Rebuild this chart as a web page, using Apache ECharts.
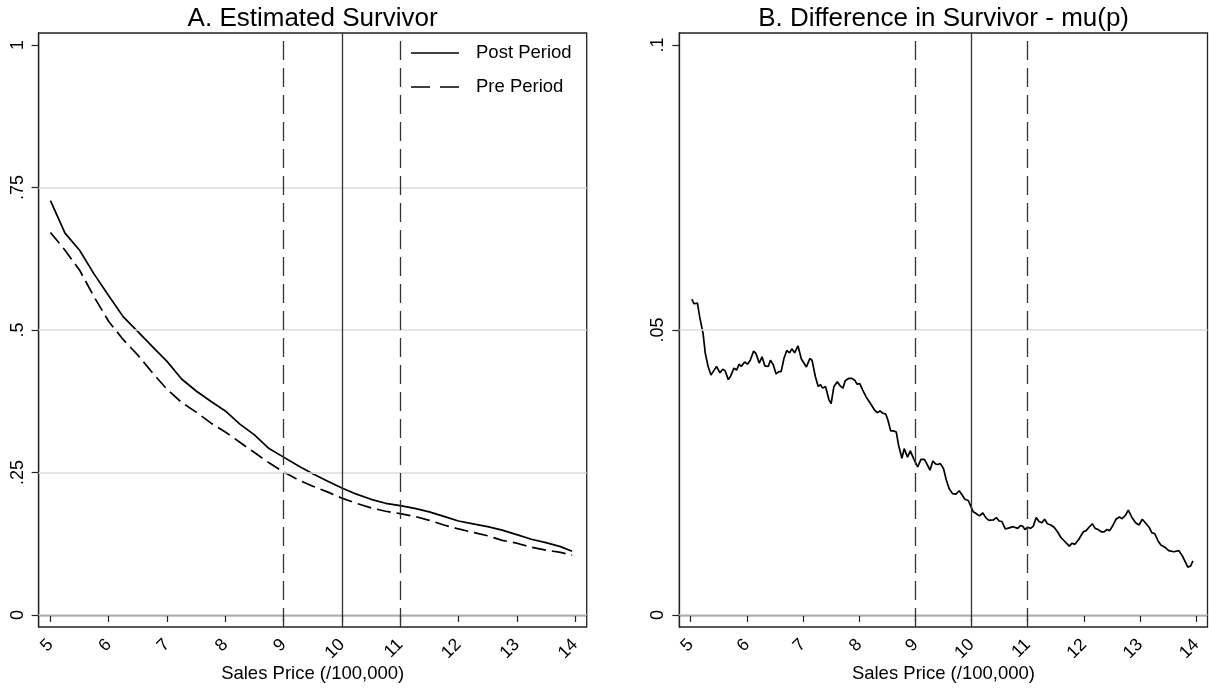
<!DOCTYPE html>
<html>
<head>
<meta charset="utf-8">
<script src="https://cdn.jsdelivr.net/npm/echarts@6/dist/echarts.min.js"></script>
<style>
html,body{margin:0;padding:0;background:#fff;}
#chart{width:1209px;height:689px;}
</style>
</head>
<body>
<div id="chart"></div>
<script>
// ---------- DATA ----------
const titleA = 'A. Estimated Survivor';
const titleB = 'B. Difference in Survivor - mu(p)';
const xAxisTitle = 'Sales Price (/100,000)';
const seriesNames = ['Post Period', 'Pre Period'];

const xTicks = [5, 6, 7, 8, 9, 10, 11, 12, 13, 14];
const yTicksA = [0, 0.25, 0.5, 0.75, 1];
const yTickLabelsA = ['0', '.25', '.5', '.75', '1'];
const yTicksB = [0, 0.05, 0.1];
const yTickLabelsB = ['0', '.05', '.1'];
const gridLinesA = [0, 0.25, 0.5, 0.75];
const gridLinesB = [0, 0.05];
const refLineDashed = [9, 11];
const refLineSolid = [10];

// Panel A: survivor curves
const priceA = [5.0, 5.25, 5.5, 5.75, 6.0, 6.25, 6.5, 6.75, 7.0, 7.25, 7.5, 7.75, 8.0, 8.25, 8.5, 8.75,
  9.0, 9.25, 9.5, 9.75, 10.0, 10.25, 10.5, 10.75, 11.0, 11.25, 11.5, 11.75, 12.0, 12.25, 12.5, 12.75,
  13.0, 13.25, 13.5, 13.75, 13.95];
const postPeriod = [0.727, 0.670, 0.640, 0.598, 0.560, 0.523, 0.497, 0.471, 0.445, 0.414, 0.393, 0.375,
  0.358, 0.335, 0.316, 0.292, 0.277, 0.262, 0.248, 0.235, 0.223, 0.212, 0.203, 0.196, 0.192, 0.187,
  0.181, 0.173, 0.165, 0.160, 0.155, 0.149, 0.141, 0.133, 0.127, 0.120, 0.112];
const prePeriod = [0.671, 0.640, 0.605, 0.558, 0.515, 0.483, 0.456, 0.425, 0.396, 0.373, 0.356, 0.337,
  0.321, 0.303, 0.285, 0.267, 0.251, 0.237, 0.226, 0.216, 0.205, 0.196, 0.188, 0.182, 0.178, 0.173,
  0.166, 0.158, 0.151, 0.145, 0.139, 0.131, 0.126, 0.119, 0.114, 0.110, 0.105];

// Panel B: difference
const priceB = [5.02, 5.06, 5.12, 5.16, 5.22, 5.26, 5.31, 5.36, 5.40, 5.46, 5.52, 5.57, 5.61, 5.67, 5.71,
  5.77, 5.82, 5.86, 5.90, 5.96, 6.01, 6.06, 6.12, 6.16, 6.22, 6.27, 6.32, 6.38, 6.42, 6.47, 6.52, 6.57,
  6.61, 6.66, 6.71, 6.76, 6.80, 6.85, 6.91, 6.97, 7.06, 7.12, 7.16, 7.22, 7.27, 7.31, 7.35, 7.40, 7.46,
  7.50, 7.55, 7.61, 7.67, 7.71, 7.75, 7.81, 7.87, 7.92, 7.96, 8.01, 8.06, 8.12, 8.20, 8.27, 8.32, 8.37,
  8.42, 8.47, 8.51, 8.56, 8.61, 8.66, 8.70, 8.76, 8.80, 8.86, 8.91, 8.97, 9.04, 9.10, 9.16, 9.20, 9.26,
  9.31, 9.36, 9.40, 9.44, 9.50, 9.55, 9.60, 9.66, 9.72, 9.78, 9.83, 9.88, 9.94, 9.99, 10.03, 10.08,
  10.14, 10.20, 10.26, 10.31, 10.39, 10.44, 10.49, 10.54, 10.60, 10.67, 10.74, 10.82, 10.87, 10.91,
  10.95, 11.00, 11.05, 11.10, 11.15, 11.20, 11.25, 11.30, 11.35, 11.41, 11.47, 11.53, 11.59, 11.66,
  11.74, 11.79, 11.84, 11.91, 11.99, 12.04, 12.09, 12.15, 12.20, 12.25, 12.31, 12.36, 12.41, 12.46,
  12.52, 12.57, 12.63, 12.68, 12.74, 12.79, 12.85, 12.92, 12.98, 13.04, 13.10, 13.16, 13.21, 13.26,
  13.32, 13.37, 13.44, 13.51, 13.60, 13.69, 13.75, 13.80, 13.85, 13.90, 13.94];
const diffB = [0.0554, 0.0546, 0.0547, 0.0523, 0.0494, 0.0459, 0.0436, 0.0421, 0.0427, 0.0436, 0.0425,
  0.0431, 0.0429, 0.0413, 0.0419, 0.0433, 0.0430, 0.0440, 0.0436, 0.0444, 0.0440, 0.0447, 0.0463, 0.0459,
  0.0442, 0.0453, 0.0437, 0.0436, 0.0447, 0.0439, 0.0423, 0.0427, 0.0427, 0.0450, 0.0464, 0.0460, 0.0467,
  0.0460, 0.0472, 0.0449, 0.0435, 0.0450, 0.0447, 0.0418, 0.0401, 0.0404, 0.0398, 0.0401, 0.0378, 0.0371,
  0.0401, 0.0409, 0.0401, 0.0398, 0.0411, 0.0415, 0.0415, 0.0412, 0.0405, 0.0406, 0.0395, 0.0383, 0.0371,
  0.0360, 0.0355, 0.0358, 0.0354, 0.0353, 0.0342, 0.0323, 0.0323, 0.0321, 0.0298, 0.0275, 0.0292, 0.0277,
  0.0288, 0.0274, 0.0260, 0.0273, 0.0273, 0.0266, 0.0254, 0.0270, 0.0265, 0.0264, 0.0266, 0.0257, 0.0237,
  0.0222, 0.0213, 0.0212, 0.0218, 0.0211, 0.0203, 0.0201, 0.0190, 0.0181, 0.0178, 0.0174, 0.0179, 0.0170,
  0.0166, 0.0167, 0.0171, 0.0165, 0.0164, 0.0151, 0.0153, 0.0155, 0.0152, 0.0157, 0.0156, 0.0150, 0.0154,
  0.0152, 0.0156, 0.0171, 0.0164, 0.0162, 0.0168, 0.0160, 0.0158, 0.0154, 0.0146, 0.0136, 0.0129, 0.0121,
  0.0126, 0.0124, 0.0133, 0.0146, 0.0148, 0.0154, 0.0160, 0.0152, 0.0150, 0.0146, 0.0146, 0.0150, 0.0148,
  0.0158, 0.0168, 0.0172, 0.0169, 0.0175, 0.0184, 0.0172, 0.0162, 0.0158, 0.0168, 0.0161, 0.0154, 0.0144,
  0.0143, 0.0130, 0.0123, 0.0119, 0.0113, 0.0111, 0.0113, 0.0104, 0.0094, 0.0084, 0.0086, 0.0095];

// ---------- CHART ----------
const FONT = '"Liberation Sans", Arial, Helvetica, sans-serif';
const chart = echarts.init(document.getElementById('chart'), null, {renderer: 'canvas'});

function pairs(xs, ys) { return xs.map((x, i) => [x, ys[i]]); }
function labelFrom(ticks, labels) {
  return function (v) {
    for (let i = 0; i < ticks.length; i++) if (Math.abs(v - ticks[i]) < 1e-9) return labels[i];
    return '';
  };
}

const axisCommonX = (gi) => ({
  type: 'value', gridIndex: gi, min: 4.797, max: 14.2,
  axisLine: {show: true, lineStyle: {color: '#222', width: 1.3}},
  axisTick: {show: true, customValues: xTicks, length: 7, lineStyle: {color: '#222', width: 1.2}},
  axisLabel: {customValues: xTicks, rotate: 45, margin: 15, color: '#000', fontSize: 17.5, fontFamily: FONT},
  splitLine: {show: false},
  name: xAxisTitle, nameLocation: 'middle', nameGap: 37, nameMoveOverlap: false,
  nameTextStyle: {color: '#000', fontSize: 18.5, fontFamily: FONT}
});
const axisCommonY = (gi, min, max, ticks, labels) => ({
  type: 'value', gridIndex: gi, min: min, max: max,
  axisLine: {show: true, lineStyle: {color: '#222', width: 1.3}},
  axisTick: {show: true, customValues: ticks, length: 7, lineStyle: {color: '#222', width: 1.2}},
  axisLabel: {customValues: ticks, rotate: 90, margin: 12, color: '#000', fontSize: 18, fontFamily: FONT,
    formatter: labelFrom(ticks, labels)},
  splitLine: {show: false}
});

function refSeries(xi, yi, gridVals) {
  const data = [];
  gridVals.forEach(v => data.push({yAxis: v, lineStyle: {color: '#dcdcdc', width: 1.6, type: 'solid'}}));
  refLineDashed.forEach(v => data.push({xAxis: v, lineStyle: {color: '#333', width: 1.3, type: [19, 8]}}));
  refLineSolid.forEach(v => data.push({xAxis: v, lineStyle: {color: '#333', width: 1.3, type: 'solid'}}));
  return {
    type: 'line', xAxisIndex: xi, yAxisIndex: yi, data: [], z: 1, silent: true,
    markLine: {silent: true, symbol: ['none', 'none'], label: {show: false}, animation: false, data: data}
  };
}

const ICON_SOLID = 'path://M0,0h48v2h-48z';
const ICON_DASH = 'path://M0,0h19v2h-19zM29,0h19v2h-19z';

const option = {
  animation: false,
  backgroundColor: '#fff',
  graphic: [
    {type: 'text', x: 312.6, y: 19, style: {text: titleA, fontSize: 26, fontFamily: FONT, fill: '#000',
      align: 'center', verticalAlign: 'middle', textAlign: 'center', textVerticalAlign: 'middle'}},
    {type: 'text', x: 943.6, y: 19, style: {text: titleB, fontSize: 26, fontFamily: FONT, fill: '#000',
      align: 'center', verticalAlign: 'middle', textAlign: 'center', textVerticalAlign: 'middle'}}
  ],
  grid: [
    {left: 38.6, right: 622.3, top: 33, bottom: 62, show: true, borderColor: '#222', borderWidth: 1.3,
      backgroundColor: '#fff', outerBoundsMode: 'none', containLabel: false},
    {left: 679.3, right: 1.5, top: 33, bottom: 62, show: true, borderColor: '#222', borderWidth: 1.3,
      backgroundColor: '#fff', outerBoundsMode: 'none', containLabel: false}
  ],
  legend: {
    orient: 'vertical', left: 411, top: 42, padding: 0, itemWidth: 48, itemHeight: 1.7, itemGap: 12,
    symbolKeepAspect: false,
    itemStyle: {color: '#000', borderWidth: 0},
    textStyle: {color: '#000', fontSize: 18.5, fontFamily: FONT, lineHeight: 22, padding: [0, 0, 0, 12]},
    data: [
      {name: seriesNames[0], icon: ICON_SOLID},
      {name: seriesNames[1], icon: ICON_DASH}
    ]
  },
  xAxis: [axisCommonX(0), axisCommonX(1)],
  yAxis: [
    axisCommonY(0, -0.021, 1.021, yTicksA, yTickLabelsA),
    axisCommonY(1, -0.0021, 0.1021, yTicksB, yTickLabelsB)
  ],
  series: [
    refSeries(0, 0, gridLinesA),
    refSeries(1, 1, gridLinesB),
    {name: seriesNames[0], type: 'line', xAxisIndex: 0, yAxisIndex: 0, z: 3, symbol: 'none',
      data: pairs(priceA, postPeriod), lineStyle: {color: '#000', width: 1.7, type: 'solid'}, itemStyle: {color: '#000'}},
    {name: seriesNames[1], type: 'line', xAxisIndex: 0, yAxisIndex: 0, z: 3, symbol: 'none',
      data: pairs(priceA, prePeriod), lineStyle: {color: '#000', width: 1.7, type: [14, 6]}, itemStyle: {color: '#000'}},
    {name: 'diff', type: 'line', xAxisIndex: 1, yAxisIndex: 1, z: 3, symbol: 'none',
      data: pairs(priceB, diffB), lineStyle: {color: '#000', width: 1.7, type: 'solid'}, itemStyle: {color: '#000'}}
  ]
};
chart.setOption(option);
</script>
</body>
</html>
